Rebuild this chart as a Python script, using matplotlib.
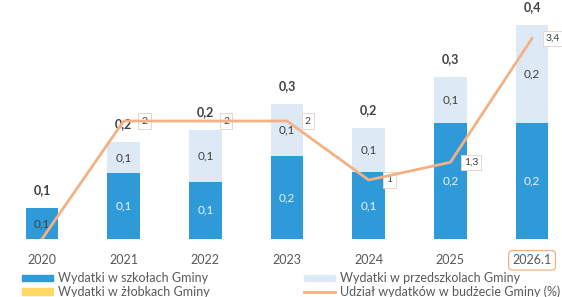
import numpy as np
import matplotlib.pyplot as plt
from matplotlib.patches import Patch
from matplotlib.lines import Line2D

plt.rcParams['font.family'] = ['Lato', 'DejaVu Sans']

years = ["2020", "2021", "2022", "2023", "2024", "2025", "2026.1"]
szkoly = [0.058, 0.123, 0.107, 0.155, 0.125, 0.217, 0.217]
przedszkola = [0.0, 0.058, 0.097, 0.097, 0.082, 0.086, 0.183]
udzial = [0, 2, 2, 2, 1, 1.3, 3.4]

legend_labels = ["Wydatki w szkołach Gminy", "Wydatki w żłobkach Gminy",
                 "Wydatki w przedszkolach Gminy", "Udział wydatków w budżecie Gminy (%)"]

DARK = "#2e9bd8"
LIGHT = "#ddeaf5"
LINE = "#f4b183"
YELLOW = "#ffd966"
TXT = "#404040"


def fmt(v):
    if float(v).is_integer():
        return str(int(v))
    return f"{v:.1f}".replace(".", ",")


fig = plt.figure(figsize=(5.62, 2.97), dpi=100)
ax = fig.add_axes([0, 58 / 297, 1, 239 / 297])
x = np.arange(len(years))
szk = np.array(szkoly)
prz = np.array(przedszkola)
total = szk + prz

ax.bar(x, szk, width=0.4, color=DARK, zorder=2)
ax.bar(x, prz, width=0.4, bottom=szk, color=LIGHT, zorder=2)
ax.set_xlim(-0.514, 6.367)
ax.set_ylim(0, 0.447)

for i in range(len(years)):
    col = TXT if i == 0 else "#e8f2fa"
    ax.text(x[i], szk[i] / 2, fmt(szk[i]), ha="center", va="center",
            fontsize=8.5, color=col, zorder=3)
    if prz[i] > 0:
        ax.text(x[i], szk[i] + prz[i] / 2, fmt(prz[i]), ha="center", va="center",
                fontsize=8.5, color=TXT, zorder=3)
    ax.annotate(fmt(total[i]), (x[i], total[i]), xytext=(0, 13),
                textcoords="offset points", ha="center", va="center",
                fontsize=9, fontweight="bold", color=TXT, zorder=3)

ax.set_xticks(x, years)
ax.tick_params(axis="x", length=0, pad=11, labelsize=9, labelcolor="#595959")
ax.get_xticklabels()[-1].set_bbox(dict(boxstyle="round,pad=0.3", fc="white",
                                       ec="#f4b183", lw=0.9))
for s in ax.spines.values():
    s.set_visible(False)

ax2 = ax.twinx()
ax2.set_ylim(0, 239 / 59)
ax2.plot(x, udzial, color=LINE, lw=2, zorder=4)
for i in range(len(years)):
    if udzial[i] == 0:
        continue
    ax2.annotate(fmt(udzial[i]), (x[i], udzial[i]), xytext=(15, 0),
                 textcoords="offset points", ha="center", va="center",
                 fontsize=7.5, color=TXT,
                 bbox=dict(boxstyle="square,pad=0.3", fc="white", ec="#e6d6cc", lw=0.7))
ax2.axis("off")
ax.tick_params(axis="y", left=False, labelleft=False)

handles = [Patch(color=DARK), Patch(color=YELLOW),
           Patch(color=LIGHT), Line2D([], [], color=LINE, lw=2)]
fig.legend(handles, legend_labels, ncol=2, loc="upper left",
           bbox_to_anchor=(0.039, 0.083), frameon=False, fontsize=9,
           labelcolor="#595959", handlelength=2.5, handleheight=0.45,
           handletextpad=0.4, columnspacing=7.5, borderaxespad=0,
           borderpad=0, labelspacing=0.1)

fig.savefig("out.png", dpi=100)
